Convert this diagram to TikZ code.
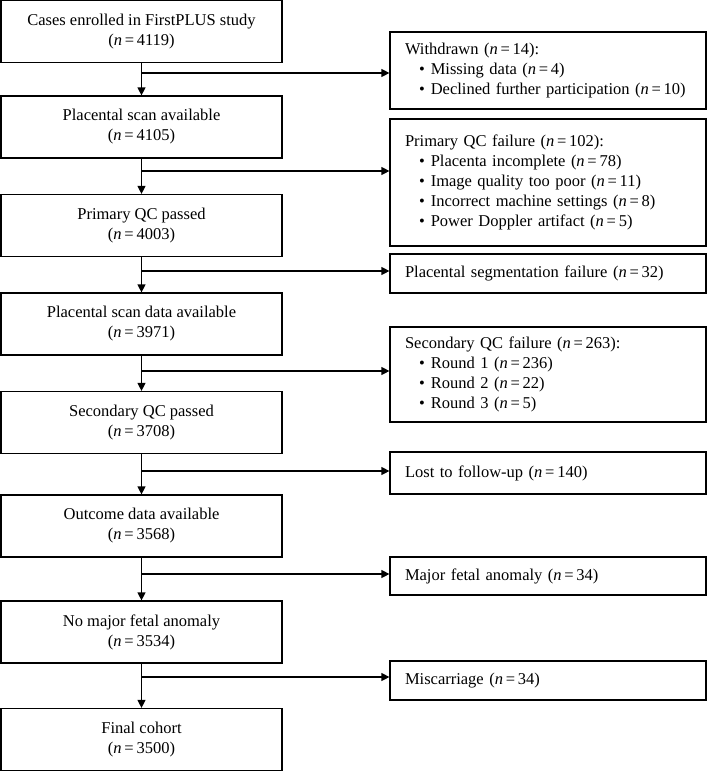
\documentclass[tikz,border=0pt]{standalone}
\usepackage{fontspec}
\setmainfont{Liberation Serif}
\usetikzlibrary{arrows.meta}
\newcommand\nval[1]{\textit{n}\,=\,#1}
\newcommand\bulit{\hspace*{14pt}\textbullet\hspace{6pt}}
\begin{document}
\begin{tikzpicture}[x=1pt,y=-1pt,
  mainbox/.style={draw, line width=1.2pt, minimum width=281pt, minimum height=62pt, align=center, inner sep=0pt, font=\fontsize{16.5}{20}\selectfont},
  sidebox/.style={draw, line width=1.2pt, text width=286pt, inner xsep=15pt, inner ysep=0pt, align=left, font=\fontsize{16.5}{20}\selectfont},
  flow/.style={line width=1.2pt, -{Triangle[length=8pt,width=8pt]}},
  branch/.style={line width=1.2pt, -{Triangle[length=8pt,width=8pt]}}]
\useasboundingbox (0,0) rectangle (709,772);

% main column
\node[mainbox] (b1) at (141.5,31.5) {Cases enrolled in FirstPLUS study\\(\nval{4119})};
\node[mainbox] (b2) at (141.5,127) {Placental scan available\\(\nval{4105})};
\node[mainbox] (b3) at (141.5,225.5) {Primary QC passed\\(\nval{4003})};
\node[mainbox] (b4) at (141.5,324) {Placental scan data available\\(\nval{3971})};
\node[mainbox] (b5) at (141.5,422.5) {Secondary QC passed\\(\nval{3708})};
\node[mainbox] (b6) at (141.5,526) {Outcome data available\\(\nval{3568})};
\node[mainbox] (b7) at (141.5,632) {No major fetal anomaly\\(\nval{3534})};
\node[mainbox] (b8) at (141.5,739.5) {Final cohort\\(\nval{3500})};

% side column
\node[sidebox, minimum height=77pt] (r1) at (548,70.5) {Withdrawn (\nval{14}):\\\bulit Missing data (\nval{4})\\\bulit Declined further participation (\nval{10})};
\node[sidebox, minimum height=127pt] (r2) at (548,182.5) {Primary QC failure (\nval{102}):\\\bulit Placenta incomplete (\nval{78})\\\bulit Image quality too poor (\nval{11})\\\bulit Incorrect machine settings (\nval{8})\\\bulit Power Doppler artifact (\nval{5})};
\node[sidebox, minimum height=39pt] (r3) at (548,273.5) {Placental segmentation failure (\nval{32})};
\node[sidebox, minimum height=95pt] (r4) at (548,374.5) {Secondary QC failure (\nval{263}):\\\bulit Round 1 (\nval{236})\\\bulit Round 2 (\nval{22})\\\bulit Round 3 (\nval{5})};
\node[sidebox, minimum height=42pt] (r5) at (548,473) {Lost to follow-up (\nval{140})};
\node[sidebox, minimum height=38pt] (r6) at (548,576) {Major fetal anomaly (\nval{34})};
\node[sidebox, minimum height=39pt] (r7) at (548,680.5) {Miscarriage (\nval{34})};

% junctions
\coordinate (j1) at (141.5,73);
\coordinate (j2) at (141.5,171);
\coordinate (j3) at (141.5,271);
\coordinate (j4) at (141.5,371);
\coordinate (j5) at (141.5,471);
\coordinate (j6) at (141.5,574);
\coordinate (j7) at (141.5,677);

% vertical arrows
\draw[flow] (b1.south) -- (b2.north);
\draw[flow] (b2.south) -- (b3.north);
\draw[flow] (b3.south) -- (b4.north);
\draw[flow] (b4.south) -- (b5.north);
\draw[flow] (b5.south) -- (b6.north);
\draw[flow] (b6.south) -- (b7.north);
\draw[flow] (b7.south) -- (b8.north);

% side arrows
\draw[branch] (j1) -- (j1 -| r1.west);
\draw[branch] (j2) -- (j2 -| r2.west);
\draw[branch] (j3) -- (j3 -| r3.west);
\draw[branch] (j4) -- (j4 -| r4.west);
\draw[branch] (j5) -- (j5 -| r5.west);
\draw[branch] (j6) -- (j6 -| r6.west);
\draw[branch] (j7) -- (j7 -| r7.west);
\end{tikzpicture}
\end{document}
